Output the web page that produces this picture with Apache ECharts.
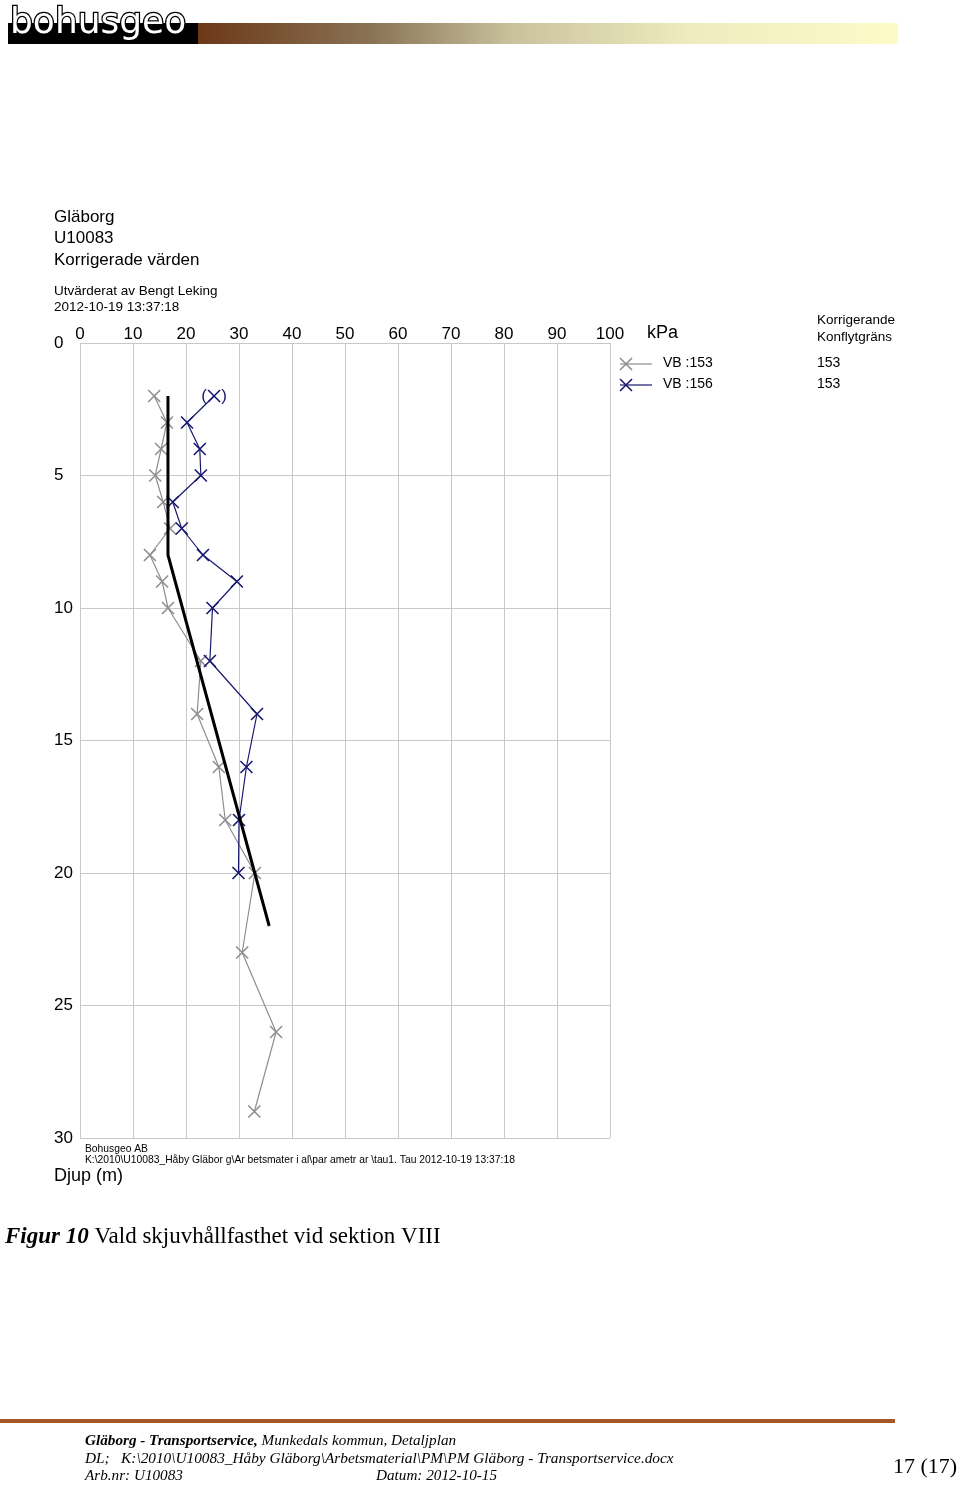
<!DOCTYPE html>
<html><head><meta charset="utf-8">
<script src="https://cdn.jsdelivr.net/npm/echarts@6/dist/echarts.min.js"></script>
<style>html,body{margin:0;padding:0;background:#fff}#c{width:960px;height:1485px}</style>
</head><body><div id="c"></div>
<script>
// ---- data ----
const xTicks = [0,10,20,30,40,50,60,70,80,90,100];
const yTicks = [0,5,10,15,20,25,30];
// VB :153 (grey)
const vb153Depth = [2,3,4,5,6,7,8,9,10,12,14,16,18,20,23,26,29];
const vb153Kpa   = [14.0,16.4,15.3,14.2,15.7,17.0,13.2,15.5,16.6,22.8,22.1,26.2,27.4,33.0,30.6,37.0,32.9];
// VB :156 (navy) - first value excluded (shown in parentheses)
const vb156Depth = [2,3,4,5,6,7,8,9,10,12,14,16,18,20];
const vb156Kpa   = [25.3,20.2,22.6,22.8,17.5,19.2,23.2,29.6,25.0,24.5,33.4,31.4,30.0,29.9];
// Evaluated strength line
const evalDepth = [2,8,22];
const evalKpa   = [16.6,16.6,35.7];

const zip = (xs, ys) => xs.map((x,i)=>[x, ys[i]]);
const SANS = '"Liberation Sans", Arial, sans-serif';
const SERIF = '"Liberation Serif", "Times New Roman", serif';
const GREY = '#8e8e8e';
const NAVY = '#18186f';
const CROSS = 'path://M0,0L10,10M10,0L0,10';

const chart = echarts.init(document.getElementById('c'), null, {renderer:'canvas'});

function txt(text, x, y, size, opts) {
  opts = opts || {};
  return {type:'text', x:x, y:y, silent:true, style:Object.assign({
    text:text, fontSize:size, fontFamily:opts.family||SANS, fill:opts.fill||'#000',
    fontWeight:opts.weight||'normal', fontStyle:opts.style||'normal',
    textAlign:opts.align||'left', textVerticalAlign:'middle'
  }, opts.extra||{})};
}
function ln(x1,y1,x2,y2,color,w){
  return {type:'line', silent:true, shape:{x1:x1,y1:y1,x2:x2,y2:y2}, style:{stroke:color, lineWidth:w}};
}

const blueData = zip(vb156Kpa, vb156Depth).map((p,i)=> i===0 ? {
  value:p, label:{show:true, position:'inside', formatter:'(   )', color:NAVY, fontSize:17, fontFamily:SANS}
} : p);

const option = {
  animation:false,
  backgroundColor:'#fff',
  grid:{left:80, top:343, width:530, height:795, containLabel:false},
  xAxis:{type:'value', position:'top', min:0, max:100, interval:10,
    axisLine:{show:false}, axisTick:{show:false},
    axisLabel:{fontSize:17, margin:0, color:'#000', fontFamily:SANS,
      formatter:(v)=> xTicks.includes(v) ? String(v) : ''},
    splitLine:{show:true, lineStyle:{color:'#c8c8c8', width:1}}},
  yAxis:{type:'value', inverse:true, min:0, max:30, interval:5,
    axisLine:{show:false}, axisTick:{show:false},
    axisLabel:{fontSize:17, margin:26, align:'left', color:'#000', fontFamily:SANS,
      formatter:(v)=> yTicks.includes(v) ? String(v) : ''},
    splitLine:{show:true, lineStyle:{color:'#c8c8c8', width:1}}},
  series:[
    {name:'VB :153', type:'line', data:zip(vb153Kpa, vb153Depth),
      symbol:CROSS, symbolSize:12, showAllSymbol:true,
      lineStyle:{color:GREY, width:1.2},
      itemStyle:{color:GREY, borderColor:GREY, borderWidth:1.6}, z:2},
    {name:'VB :156', type:'line', data:blueData,
      symbol:CROSS, symbolSize:12, showAllSymbol:true,
      lineStyle:{color:NAVY, width:1.2},
      itemStyle:{color:NAVY, borderColor:NAVY, borderWidth:1.6}, z:3},
    {name:'Vald', type:'line', data:zip(evalKpa, evalDepth), symbol:'none',
      lineStyle:{color:'#000', width:3}, z:4}
  ],
  graphic:[
    // header
    {type:'rect', shape:{x:198, y:23, width:700, height:21}, silent:true,
      style:{fill:new echarts.graphic.LinearGradient(0,0,1,0,[
        {offset:0, color:'#6c3818'},{offset:0.25, color:'#8a7455'},
        {offset:0.45, color:'#c9c39c'},{offset:0.7, color:'#eeebbf'},{offset:1, color:'#fdfbc8'}])}},
    {type:'rect', shape:{x:8, y:23, width:190, height:21}, silent:true, style:{fill:'#000'}},
    {type:'text', x:10, y:24, silent:true, style:{text:'bohusgeo', fontSize:36, fontFamily:'"DejaVu Sans", sans-serif',
      fill:'#fff', stroke:'#000', lineWidth:2.5, textVerticalAlign:'middle', textAlign:'left'}},
    // titles
    txt('Gläborg', 54, 217, 17),
    txt('U10083', 54, 238, 17),
    txt('Korrigerade värden', 54, 260, 17),
    txt('Utvärderat av Bengt Leking', 54, 291, 13.5),
    txt('2012-10-19 13:37:18', 54, 307, 13.5),
    txt('kPa', 647, 333, 18),
    txt('Korrigerande', 817, 320, 13.5),
    txt('Konflytgräns', 817, 337, 13.5),
    // legend
    ln(620,364,652,364,GREY,1.2), ln(620,358,632,370,GREY,1.6), ln(632,358,620,370,GREY,1.6),
    ln(620,385,652,385,NAVY,1.2), ln(620,379,632,391,NAVY,1.6), ln(632,379,620,391,NAVY,1.6),
    txt('VB :153', 663, 363, 14),
    txt('153', 817, 363, 14),
    txt('VB :156', 663, 384, 14),
    txt('153', 817, 384, 14),
    // bottom notes
    txt('Bohusgeo AB', 85, 1149, 10.3),
    txt('K:\\2010\\U10083_Håby Gläbor g\\Ar betsmater i al\\par ametr ar \\tau1. Tau 2012-10-19 13:37:18', 85, 1160, 10.3),
    txt('Djup (m)', 54, 1176, 18),
    // caption
    {type:'text', x:5, y:1237, silent:true, style:{
      text:'{b|Figur 10} Vald skjuvhållfasthet vid sektion VIII', fontSize:23, fontFamily:SERIF, fill:'#000',
      textVerticalAlign:'middle', textAlign:'left',
      rich:{b:{fontSize:23, fontFamily:SERIF, fontStyle:'italic', fontWeight:'bold', fill:'#000'}}}},
    // footer
    {type:'rect', shape:{x:0, y:1419, width:895, height:4}, silent:true, style:{fill:'#a3582a'}},
    {type:'text', x:85, y:1441, silent:true, style:{
      text:'{b|Gläborg - Transportservice,} Munkedals kommun, Detaljplan', fontSize:15.2, fontFamily:SERIF,
      fontStyle:'italic', fill:'#000', textVerticalAlign:'middle', textAlign:'left',
      rich:{b:{fontSize:15.2, fontFamily:SERIF, fontStyle:'italic', fontWeight:'bold', fill:'#000'}}}},
    txt('DL;   K:\\2010\\U10083_Håby Gläborg\\Arbetsmaterial\\PM\\PM Gläborg - Transportservice.docx', 85, 1459, 15.3, {family:SERIF, style:'italic'}),
    txt('Arb.nr: U10083', 85, 1476, 15.2, {family:SERIF, style:'italic'}),
    txt('Datum: 2012-10-15', 376, 1476, 15.2, {family:SERIF, style:'italic'}),
    txt('17 (17)', 893, 1467, 22, {family:SERIF})
  ]
};
chart.setOption(option);
</script></body></html>
